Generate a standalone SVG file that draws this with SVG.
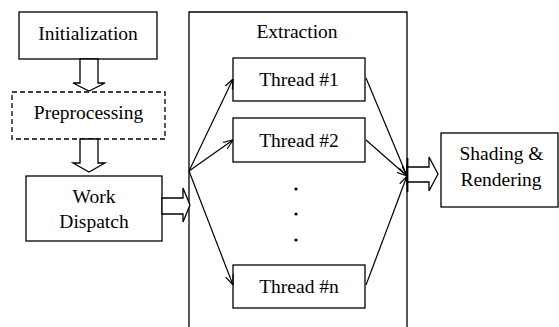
<svg xmlns="http://www.w3.org/2000/svg" width="559" height="327" viewBox="0 0 559 327" font-family="'Liberation Serif', 'DejaVu Serif', serif">
  <style>
    .box { fill: #fff; stroke: #000; stroke-width: 1.3; }
    .dash { stroke-dasharray: 5 3; }
    .lbl { font-family: 'Liberation Serif', 'DejaVu Serif', serif; font-size: 19.5px; fill: #000; text-anchor: middle; }
    .fat { fill: #fff; stroke: #000; stroke-width: 1.3; stroke-linejoin: miter; }
    .thin { fill: none; stroke: #000; stroke-width: 1.2; marker-end: url(#vhead); }
  </style>
  <defs>
    <marker id="vhead" viewBox="0 0 10 10" refX="10" refY="5" markerWidth="10" markerHeight="10" markerUnits="userSpaceOnUse" orient="auto">
      <polyline points="0,1 10,5 0,9" fill="none" stroke="#000" stroke-width="1.2"/>
    </marker>
  </defs>
  <rect width="559" height="327" fill="#fff"/>

  <!-- Extraction stage container (open at the bottom) -->
  <g id="extraction">
    <polyline points="189,327 189,12 407,12 407,327" fill="none" stroke="#000" stroke-width="1.3"/>
    <text class="lbl" x="297" y="38">Extraction</text>
  </g>

  <g id="initialization">
    <rect class="box" x="19" y="12" width="138" height="47"/>
    <text class="lbl" x="88" y="40">Initialization</text>
  </g>

  <g id="preprocessing">
    <rect class="box dash" x="12" y="92" width="153" height="47"/>
    <text class="lbl" x="88.5" y="119">Preprocessing</text>
  </g>

  <g id="work-dispatch">
    <rect class="box" x="26" y="176" width="136" height="65"/>
    <text class="lbl" x="94" y="203">Work</text>
    <text class="lbl" x="94" y="228">Dispatch</text>
  </g>

  <g id="thread-1">
    <rect class="box" x="233" y="58" width="132" height="43"/>
    <text class="lbl" x="299" y="86">Thread #1</text>
  </g>

  <g id="thread-2">
    <rect class="box" x="233" y="118" width="132" height="44"/>
    <text class="lbl" x="299" y="147">Thread #2</text>
  </g>

  <g id="ellipsis">
    <circle cx="296" cy="189" r="1.6" fill="#000"/>
    <circle cx="296" cy="214" r="1.6" fill="#000"/>
    <circle cx="296" cy="240" r="1.6" fill="#000"/>
  </g>

  <g id="thread-n">
    <rect class="box" x="233" y="265" width="132" height="43"/>
    <text class="lbl" x="299" y="293">Thread #n</text>
  </g>

  <g id="shading-rendering">
    <rect class="box" x="441" y="133" width="117" height="74"/>
    <text class="lbl" x="501.5" y="160">Shading &amp;</text>
    <text class="lbl" x="501" y="186">Rendering</text>
  </g>

  <g id="connectors">
    <!-- block arrows -->
    <polygon class="fat" points="80,59 98,59 98,83 105,83 89,91 73,83 80,83"/>
    <polygon class="fat" points="80,139 98,139 98,163 105,163 89,172 73,163 80,163"/>
    <polygon class="fat" points="162,198 183,198 183,188 190,205 183,222 183,214 162,214"/>
    <polygon class="fat" points="407,167 429,167 429,157 438,174 429,191 429,182 407,182"/>
    <line x1="407.5" y1="158" x2="407.5" y2="192" stroke="#000" stroke-width="1.8"/>
    <!-- fan out to worker threads -->
    <line class="thin" x1="189" y1="171" x2="233" y2="79"/>
    <line class="thin" x1="189" y1="171" x2="233" y2="140"/>
    <line class="thin" x1="189" y1="171" x2="233" y2="285"/>
    <!-- fan in from worker threads -->
    <line class="thin" x1="366" y1="78" x2="407" y2="176"/>
    <line class="thin" x1="366" y1="140" x2="407" y2="176"/>
    <line class="thin" x1="366" y1="285" x2="407" y2="176"/>
  </g>
</svg>
